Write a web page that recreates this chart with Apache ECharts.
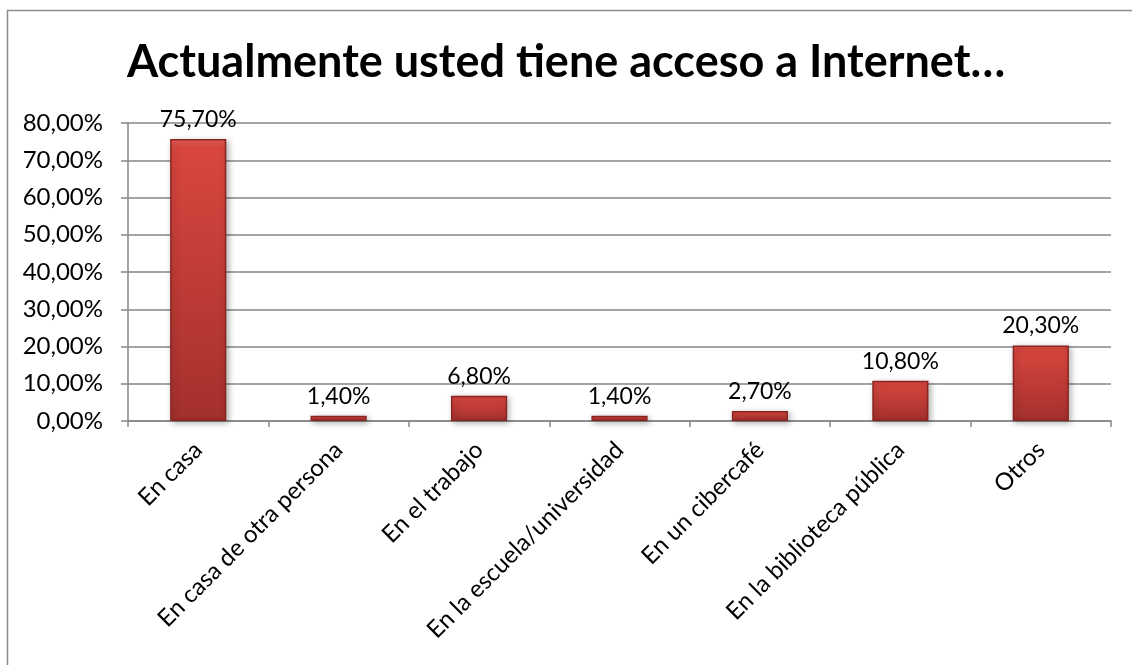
<!DOCTYPE html>
<html>
<head>
<meta charset="utf-8">
<script src="https://cdn.jsdelivr.net/npm/echarts@6/dist/echarts.min.js"></script>
<style>
	html, body { margin: 0; padding: 0; background: #fff; }
	#chart { width: 1132px; height: 665px; }
</style>
</head>
<body>
<div id="chart"></div>
<script>
	// datos
	var categorias = ['En casa', 'En casa de otra persona', 'En el trabajo', 'En la escuela/universidad', 'En un cibercafé', 'En la biblioteca pública', 'Otros']
	var porcentajes = [75.7, 1.4, 6.8, 1.4, 2.7, 10.8, 20.3]
	var ejeMax = 80
	var ejeIntervalo = 10

	var fuente = 'Lato, "Open Sans", sans-serif'

	function coma(v, dec) {
		return v.toFixed(dec).replace('.', ',') + '%'
	}

	var chart = echarts.init(document.getElementById('chart'))
	var option = {
		backgroundColor: '#fff',
		animation: false,
		title: {
			text: 'Actualmente usted tiene acceso a Internet…',
			left: 'center',
			top: 35,
			textStyle: {
				fontFamily: fuente,
				fontWeight: 'bold',
				fontSize: 45,
				color: '#000'
			}
		},
		graphic: [{
			type: 'rect',
			shape: { x: 7.5, y: 10.5, width: 1140, height: 700 },
			style: { fill: null, stroke: '#8c8c8c', lineWidth: 1.5 },
			silent: true
		}],
		grid: {
			left: 128,
			right: 21,
			top: 123,
			bottom: 244
		},
		xAxis: {
			type: 'category',
			data: categorias,
			axisLine: { lineStyle: { color: '#868686', width: 1.5 } },
			axisTick: { show: true, length: 6, alignWithLabel: false, lineStyle: { color: '#868686', width: 1.5 } },
			axisLabel: {
				rotate: 45,
				interval: 0,
				margin: 25,
				fontFamily: fuente,
				fontSize: 24,
				color: '#000'
			}
		},
		yAxis: {
			type: 'value',
			min: 0,
			max: ejeMax,
			interval: ejeIntervalo,
			axisLine: { show: true, lineStyle: { color: '#868686', width: 1.5 } },
			axisTick: { show: true, length: 7, lineStyle: { color: '#868686', width: 1.5 } },
			splitLine: { lineStyle: { color: '#868686', width: 1.5 } },
			axisLabel: {
				margin: 25,
				fontFamily: fuente,
				fontSize: 24,
				color: '#000',
				formatter: function (v) { return coma(v, 2) }
			}
		},
		series: [{
			type: 'bar',
			data: porcentajes,
			barWidth: '40%',
			itemStyle: {
				color: {
					type: 'linear', x: 0, y: 0, x2: 0, y2: 1,
					colorStops: [
						{ offset: 0, color: '#e8605b' },
						{ offset: 0.03, color: '#d9463f' },
						{ offset: 1, color: '#a3302c' }
					]
				},
				borderColor: '#8a2421',
				borderWidth: 1.5,
				shadowColor: 'rgba(0,0,0,0.3)',
				shadowBlur: 6,
				shadowOffsetX: 2,
				shadowOffsetY: 2
			},
			label: {
				show: true,
				position: 'top',
				distance: 8,
				fontFamily: fuente,
				fontSize: 23,
				color: '#000',
				formatter: function (p) { return coma(p.value, 2) }
			}
		}]
	}
	chart.setOption(option)
</script>
</body>
</html>
